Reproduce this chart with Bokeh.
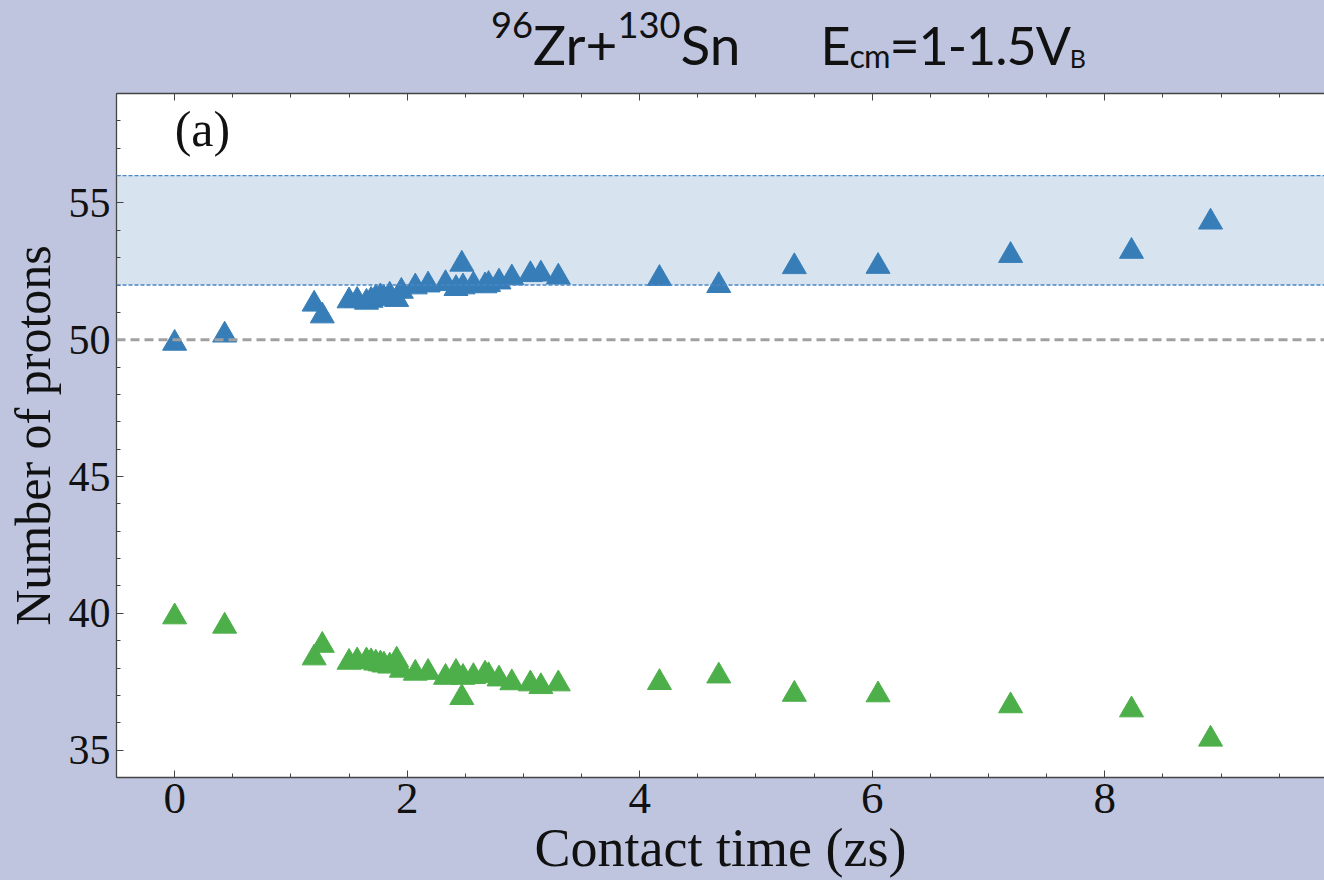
import numpy as np
from bokeh.plotting import figure
from bokeh.models import (Div, Label, Span, BoxAnnotation, LinearAxis, FixedTicker,
                          Range1d, ColumnDataSource)
from bokeh.layouts import column
from bokeh.transform import dodge
from bokeh.embed import file_html
from bokeh.resources import INLINE

# ---------------- data ----------------
t_zs = [0.0, 0.43, 1.20, 1.27, 1.50, 1.57, 1.65, 1.69, 1.73, 1.77, 1.80, 1.85,
        1.91, 1.95, 2.07, 2.18, 2.33, 2.42, 2.47, 2.48, 2.57, 2.67, 2.70, 2.79,
        2.90, 3.06, 3.15, 3.30, 4.17, 4.68, 5.33, 6.05, 7.19, 8.23, 8.91]
z_heavy = [50.0, 50.30, 51.43, 51.0, 51.55, 51.57, 51.5, 51.57, 51.66, 51.7, 51.64, 51.76,
           51.6, 51.9, 52.06, 52.13, 52.18, 52.0, 52.89, 52.06, 52.13, 52.1, 52.15, 52.24,
           52.39, 52.51, 52.53, 52.42, 52.37, 52.11, 52.80, 52.81, 53.21, 53.36, 54.43]
z_light = [40.0, 39.66, 38.50, 38.96, 38.34, 38.39, 38.39, 38.36, 38.31, 38.28, 38.24, 38.2,
           38.42, 38.05, 37.94, 37.97, 37.79, 37.97, 37.05, 37.79, 37.82, 37.91, 37.85, 37.73,
           37.59, 37.55, 37.45, 37.55, 37.6, 37.84, 37.17, 37.15, 36.75, 36.6, 35.53]
band_low, band_high = 52, 56
z_entrance = 50
x_ticks = [0, 2, 4, 6, 8]
y_ticks = [35, 40, 45, 50, 55]

# ---------------- style ----------------
BG = "#BFC5DF"
BLUE = "#377EB8"
GREEN = "#4DAF4A"
AXIS_C = "#444444"
TXT = "#111111"
SERIF = "Liberation Serif"

x_minor = list(np.arange(-0.5, 10.01, 0.5))
y_minor = list(np.arange(34, 59.01, 1.0))
xticker = FixedTicker(ticks=x_ticks, minor_ticks=x_minor)
yticker = FixedTicker(ticks=y_ticks, minor_ticks=y_minor)

p = figure(width=1324, height=805, x_range=Range1d(-0.5, 9.89), y_range=Range1d(34, 59),
           output_backend="svg", toolbar_location=None,
           background_fill_color="white", border_fill_color=BG, outline_line_color=None,
           min_border_left=116, min_border_right=0, min_border_top=18, min_border_bottom=101)
p.grid.visible = False


def style_axis(ax, size):
    ax.axis_line_color = AXIS_C
    ax.axis_line_width = 1.3
    ax.major_tick_in = 7
    ax.major_tick_out = 0
    ax.minor_tick_in = 4
    ax.minor_tick_out = 0
    ax.major_tick_line_color = AXIS_C
    ax.minor_tick_line_color = AXIS_C
    ax.major_label_text_font = SERIF
    ax.major_label_text_font_size = size
    ax.major_label_text_color = TXT
    ax.axis_label_text_font = SERIF
    ax.axis_label_text_font_style = "normal"
    ax.axis_label_text_color = TXT


p.xaxis.ticker = xticker
p.yaxis.ticker = yticker
style_axis(p.xaxis[0], "45px")
style_axis(p.yaxis[0], "42px")
p.xaxis.major_label_standoff = 6
p.yaxis.major_label_standoff = 6
p.xaxis.axis_label = "Contact time (zs)"
p.xaxis.axis_label_text_font_size = "54px"
p.xaxis.axis_label_standoff = 2
p.yaxis.axis_label = "Number of protons"
p.yaxis.axis_label_text_font_size = "50px"
p.yaxis.axis_label_standoff = 5

# mirrored top border with inward ticks, no labels
top_ax = LinearAxis(ticker=xticker)
style_axis(top_ax, "1px")
top_ax.major_label_overrides = {t: "" for t in x_ticks}
top_ax.major_label_standoff = 0
p.add_layout(top_ax, "above")

# target band and reference lines
p.add_layout(BoxAnnotation(bottom=band_low, top=band_high, fill_color="#D7E4F0",
                           fill_alpha=1.0, line_color=None, level="underlay"))
for loc in (band_low, band_high):
    p.add_layout(Span(location=loc, dimension="width", line_color="#4A86C5",
                      line_width=1.3, line_dash="4 2"))
p.add_layout(Span(location=z_entrance, dimension="width", line_color="#A0A0A0",
                  line_width=3, line_dash="9 5"))

src = ColumnDataSource(dict(t=t_zs, zh=z_heavy, zl=z_light))
p.scatter(x="t", y=dodge("zh", -0.13, range=p.y_range), source=src, marker="triangle",
          size=24, fill_color=BLUE, line_color=BLUE, line_width=1)
p.scatter(x="t", y=dodge("zl", -0.13, range=p.y_range), source=src, marker="triangle",
          size=24, fill_color=GREEN, line_color=GREEN, line_width=1)

p.add_layout(Label(x=0.0, y=57.7, text="(a)", text_font=SERIF, text_font_size="50px",
                   text_color=TXT, text_baseline="alphabetic"))

sup = 'font-size:66%; vertical-align:27px; line-height:0;'
title_html = (
    '<div style="margin:0; font-family:Lato, sans-serif; color:#111; line-height:56px;'
    ' white-space:nowrap; padding-left:491px; padding-top:16px;">'
    '<span style="font-size:55px;">'
    f'<span style="{sup}">96</span>Zr+<span style="{sup}">130</span>Sn</span>'
    '<span style="display:inline-block; width:80px;"></span>'
    '<span style="font-size:52px; letter-spacing:-1px;">'
    'E<span style="font-size:62%; vertical-align:-3px; line-height:0;">cm</span>=1-1.5V'
    '<span style="font-size:48%; vertical-align:-3px; line-height:0;">B</span></span>'
    '</div>'
)
title = Div(text=title_html, width=1324, height=75, margin=0,
            styles={"background-color": BG})

layout = column(title, p, spacing=0, styles={"background-color": BG})

open("out.html", "w").write(file_html(layout, INLINE))
